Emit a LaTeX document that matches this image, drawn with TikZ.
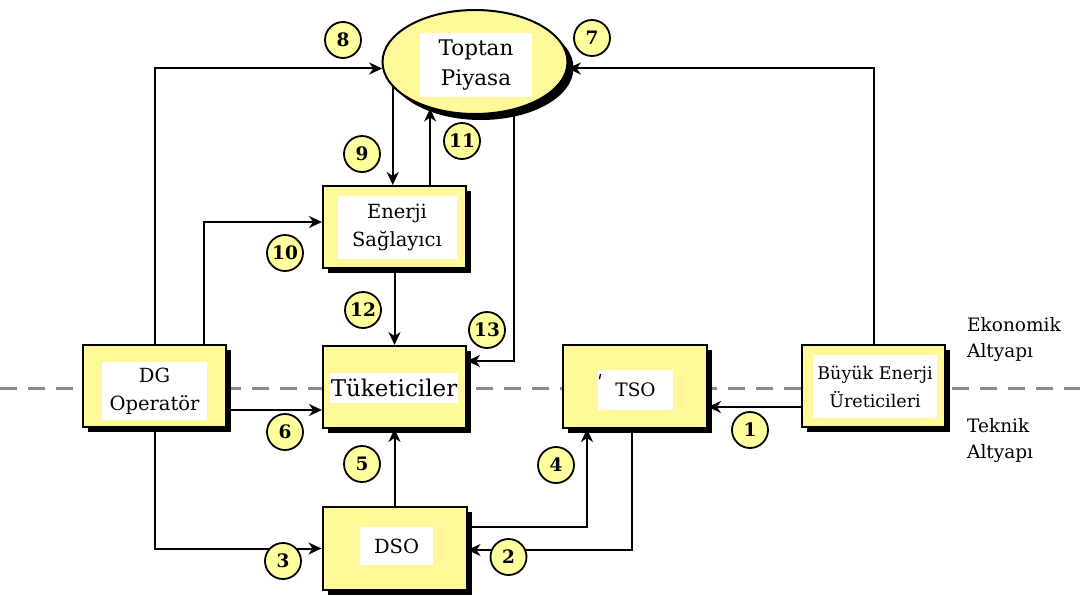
\documentclass[tikz,border=0pt]{standalone}
\usepackage{fontspec}
\setmainfont{DejaVu Serif}
\usetikzlibrary{shadows,arrows.meta,shapes.geometric}
\definecolor{boxyellow}{HTML}{FFF99A}
\definecolor{numyellow}{HTML}{FFFF9E}
\definecolor{divider}{HTML}{8C8C8C}

\begin{document}
\begin{tikzpicture}[x=1pt,y=-1pt,
  unitbox/.style={draw=black, line width=2pt, fill=boxyellow, minimum width=143pt,
    minimum height=82pt, inner sep=0pt,
    drop shadow={shadow xshift=5pt, shadow yshift=-5pt, fill=black, opacity=1}},
  marketshape/.style={ellipse, draw=black, line width=2pt, fill=boxyellow,
    minimum width=185pt, minimum height=104pt, inner sep=0pt,
    drop shadow={shadow xshift=6pt, shadow yshift=-6pt, fill=black, opacity=1}},
  boxtext/.style={fill=white, inner sep=0pt, align=center, font=\fontsize{19.5}{28}\selectfont},
  flow/.style={line width=2pt, -{Stealth[length=13pt,width=12pt,inset=4pt]}},
  num/.style={circle, draw=black, line width=1.8pt, fill=numyellow, minimum size=36pt,
    inner sep=0pt, font=\bfseries\fontsize{18.5}{18.5}\selectfont},
  sidenote/.style={anchor=west, align=left, inner sep=0pt, font=\fontsize{18.5}{26}\selectfont}
]
\useasboundingbox (0,0) rectangle (1080,595);
\fill[white] (0,0) rectangle (1080,595);

% border between the economic and the technical layer
\draw[divider, line width=3pt, dash pattern=on 17pt off 11pt] (0,388) -- (1080,388);

% wholesale market
\node[marketshape] (tp) at (475,62) {};
\node[boxtext, minimum width=112pt, minimum height=64pt, font=\fontsize{21.5}{30}\selectfont] (tpt) at (476,65) {Toptan\\Piyasa};

% actors
\node[unitbox] (es) at (394.5,227) {};
\node[boxtext, minimum width=119pt, minimum height=63pt] (est) at (397,227) {Enerji\\Sağlayıcı};

\node[unitbox] (dg) at (154.5,386) {};
\node[boxtext, minimum width=105pt, minimum height=58pt] (dgt) at (154.5,391) {DG\\Operatör};

\node[unitbox] (tk) at (394.5,387) {};
\node[boxtext, minimum width=128pt, minimum height=30pt, font=\fontsize{23}{27}\selectfont] (tkt) at (394,388) {Tüketiciler};

\node[unitbox, minimum width=144pt, minimum height=83pt] (tso) at (635,386.5) {};
\node[boxtext, minimum width=75pt, minimum height=40pt, font=\fontsize{18.5}{24}\selectfont] (tsot) at (635.5,390) {TSO};
\draw[line width=1.3pt] (600.5,374) -- (599.5,379);

\node[unitbox] (bu) at (873.5,386) {};
\node[boxtext, minimum width=124pt, minimum height=63pt, font=\fontsize{17.5}{28}\selectfont] (but) at (875,386.5) {Büyük Enerji\\Üreticileri};

\node[unitbox, minimum width=144pt, minimum height=83pt] (dso) at (394.5,548.5) {};
\node[boxtext, minimum width=73pt, minimum height=38pt] (dsot) at (396.5,546) {DSO};

% flows
\draw[flow] ([yshift=-21pt]bu.west) -- ([yshift=-21pt]bu.west -| tso.east);
\draw[flow] ([xshift=-3pt]tso.south) |- ([yshift=-1.5pt]dso.east);
\draw[flow] (dg.south) |- (dso.west);
\draw[flow] ([yshift=21.5pt]dso.east) -| ([xshift=-48pt]tso.south);
\draw[flow] (dso.north) -- (tk.south);
\draw[flow] ([yshift=-24pt]dg.east) -- ([yshift=-24pt]dg.east -| tk.west);
\draw[flow] (bu.north) |- (tp.356);
\draw[flow] (dg.north) |- (tp.184);
\draw[flow] (tp.197.6) -- (tp.197.6 |- es.north);
\draw[flow] ([xshift=49.5pt]dg.north) |- ([yshift=5pt]es.west);
\draw[flow] (es.north -| tp.226) -- (tp.226);
\draw[flow] (es.south) -- (tk.north);
\draw[flow] (tp.309) |- ([yshift=-16pt]tk.north east);

% flow numbers
\node[num] (n1) at (750,430) {1};
\node[num] (n2) at (508.5,557) {2};
\node[num] (n3) at (283,561) {3};
\node[num] (n4) at (556,465) {4};
\node[num] (n5) at (362,464) {5};
\node[num] (n6) at (285,432) {6};
\node[num] (n7) at (592,38) {7};
\node[num] (n8) at (343,40) {8};
\node[num] (n9) at (362,154) {9};
\node[num] (n10) at (285,253) {10};
\node[num] (n11) at (462,141) {11};
\node[num] (n12) at (363,310) {12};
\node[num] (n13) at (487,330) {13};

% layer names
\node[sidenote] (eko) at (967,340) {Ekonomik\\Altyapı};
\node[sidenote] (tek) at (967,440.5) {Teknik\\Altyapı};
\end{tikzpicture}
\end{document}
